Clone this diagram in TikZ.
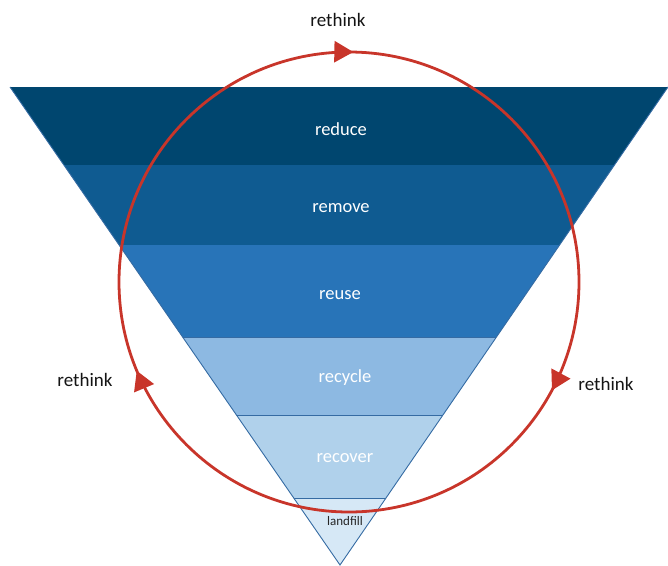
\documentclass[tikz,border=0pt]{standalone}
\usepackage{fontspec}
\setmainfont{Carlito}
\usetikzlibrary{arrows.meta,decorations.markings}

\definecolor{reducecol}{HTML}{00466F}
\definecolor{removecol}{HTML}{0F5B91}
\definecolor{reusecol}{HTML}{2874B8}
\definecolor{recyclecol}{HTML}{8DB9E2}
\definecolor{recovercol}{HTML}{B0D1EB}
\definecolor{landfillcol}{HTML}{D6E8F6}
\definecolor{edgecol}{HTML}{356BA3}
\definecolor{loopred}{HTML}{C8352A}

\tikzset{
  band label/.style={text=white,font=\fontsize{18.5}{21}\selectfont},
  small label/.style={text=black!85,font=\fontsize{13}{15}\selectfont},
  rethink label/.style={text=black!92,font=\fontsize{19}{22}\selectfont},
  band edge/.style={draw=edgecol,line width=0.9pt},
  looptip/.tip={Triangle[length=19pt,width=21pt]},
  loop arrow/.style={draw=loopred,line width=2.8pt,postaction=decorate,
    decoration={markings,
      mark=at position 0.253 with {\arrow{looptip}},
      mark=at position 0.578 with {\arrow{looptip}},
      mark=at position 0.937 with {\arrow{looptip}}}}
}

\begin{document}
\begin{tikzpicture}[x=1pt,y=-1pt]
\useasboundingbox (0,0) rectangle (668,565);

\coordinate (tl) at (10,87);
\coordinate (tr) at (668,87);
\coordinate (apex) at (340,565);

% funnel bands
\begin{scope}
  \clip (tl) -- (tr) -- (apex) -- cycle;
  \foreach \top/\bot/\col in {87/165/reducecol,165/245/removecol,245/337/reusecol,
      337/415/recyclecol,415/498/recovercol,498/566/landfillcol}
    \fill[\col] (0,\top) rectangle (668,\bot);
  \foreach \y in {337,415,498}
    \draw[band edge] (0,\y) -- (668,\y);
\end{scope}
\draw[band edge] (tl) -- (apex) -- (tr);

\node[band label] (reduce) at (341,129) {reduce};
\node[band label] (remove) at (341,208) {remove};
\node[band label] (reuse) at (340,295) {reuse};
\node[band label] (recycle) at (345,378) {recycle};
\node[band label] (recover) at (345,458) {recover};
\node[small label] (landfill) at (345,521) {landfill};

% rethink loop
\coordinate (loopc) at (349,282);
\draw[loop arrow] (loopc) ++(180:230pt) arc[start angle=180,end angle=-180,radius=230pt];

\node[rethink label] (rethinktop) at (338,20) {rethink};
\node[rethink label] (rethinkleft) at (85,380) {rethink};
\node[rethink label] (rethinkright) at (606,384) {rethink};
\end{tikzpicture}
\end{document}
